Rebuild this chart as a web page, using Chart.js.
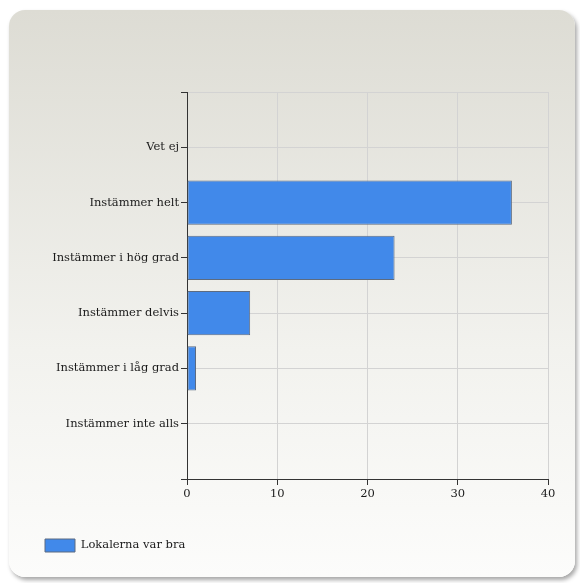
<!DOCTYPE html>
<html lang="sv">
<head>
    <meta charset="UTF-8">
    <title>Lokalerna var bra</title>
    <script src="https://cdn.jsdelivr.net/npm/chart.js"></script>
    <style>
        html, body { margin: 0; padding: 0; background: #ffffff; }
        .wrap { position: relative; width: 580px; height: 583px; }
        .panel {
            position: absolute; left: 9px; top: 10px; width: 566px; height: 567px;
            border-radius: 16px;
            background: linear-gradient(to bottom, #dddcd4 0%, #f2f2ee 60%, #fcfcfb 100%);
            box-shadow: 2px 3px 4px rgba(0, 0, 0, 0.35);
        }
        canvas { position: absolute; left: 0; top: 0; }
    </style>
</head>
<body>
    <div class="wrap">
        <div class="panel"></div>
        <canvas id="grafik" width="580" height="583"></canvas>
    </div>

    <script>
        // kategorier uppifrån och ner
        const kategorier = ['Vet ej', 'Instämmer helt', 'Instämmer i hög grad', 'Instämmer delvis', 'Instämmer i låg grad', 'Instämmer inte alls'];
        const antal = [0, 36, 23, 7, 1, 0];
        const serieNamn = 'Lokalerna var bra';
        const xTicks = [0, 10, 20, 30, 40];

        // tomma platser överst och nederst ger luft runt staplarna
        const etiketter = [''].concat(kategorier, ['']);
        const varden = [null].concat(antal, [null]);

        const typsnitt = { family: '"DejaVu Serif", "Liberation Serif", serif', size: 11.5 };

        new Chart(document.getElementById('grafik'), {
            type: 'bar',
            data: {
                labels: etiketter,
                datasets: [{
                    label: serieNamn,
                    data: varden,
                    backgroundColor: '#4189ea',
                    borderColor: '#5d6b80',
                    borderWidth: 1,
                    borderSkipped: false,
                    categoryPercentage: 0.8,
                    barPercentage: 1.0
                }]
            },
            options: {
                indexAxis: 'y',
                responsive: false,
                animation: false,
                layout: { padding: { left: 35, right: 32, top: 92, bottom: 21 } },
                scales: {
                    x: {
                        min: xTicks[0],
                        max: xTicks[xTicks.length - 1],
                        afterBuildTicks: (s) => { s.ticks = xTicks.map(v => ({ value: v })); },
                        grid: { color: '#d3d3d3', tickColor: '#333333', tickLength: 6 },
                        border: { color: '#333333', width: 1 },
                        ticks: { color: '#1a1a1a', font: typsnitt, padding: 2 },
                        afterFit: (s) => { s.height = 50; }
                    },
                    y: {
                        type: 'category',
                        offset: false,
                        grid: { offset: false, color: '#d3d3d3', tickColor: '#333333', tickLength: 6 },
                        border: { color: '#333333', width: 1 },
                        ticks: { color: '#1a1a1a', font: typsnitt, padding: 2, autoSkip: false },
                        afterFit: (s) => { s.width = 152; }
                    }
                },
                plugins: {
                    legend: {
                        position: 'bottom',
                        align: 'start',
                        labels: {
                            boxWidth: 30,
                            boxHeight: 13,
                            color: '#1a1a1a',
                            font: typsnitt,
                            padding: 10
                        }
                    },
                    tooltip: { enabled: false }
                }
            }
        });
    </script>
</body>
</html>
